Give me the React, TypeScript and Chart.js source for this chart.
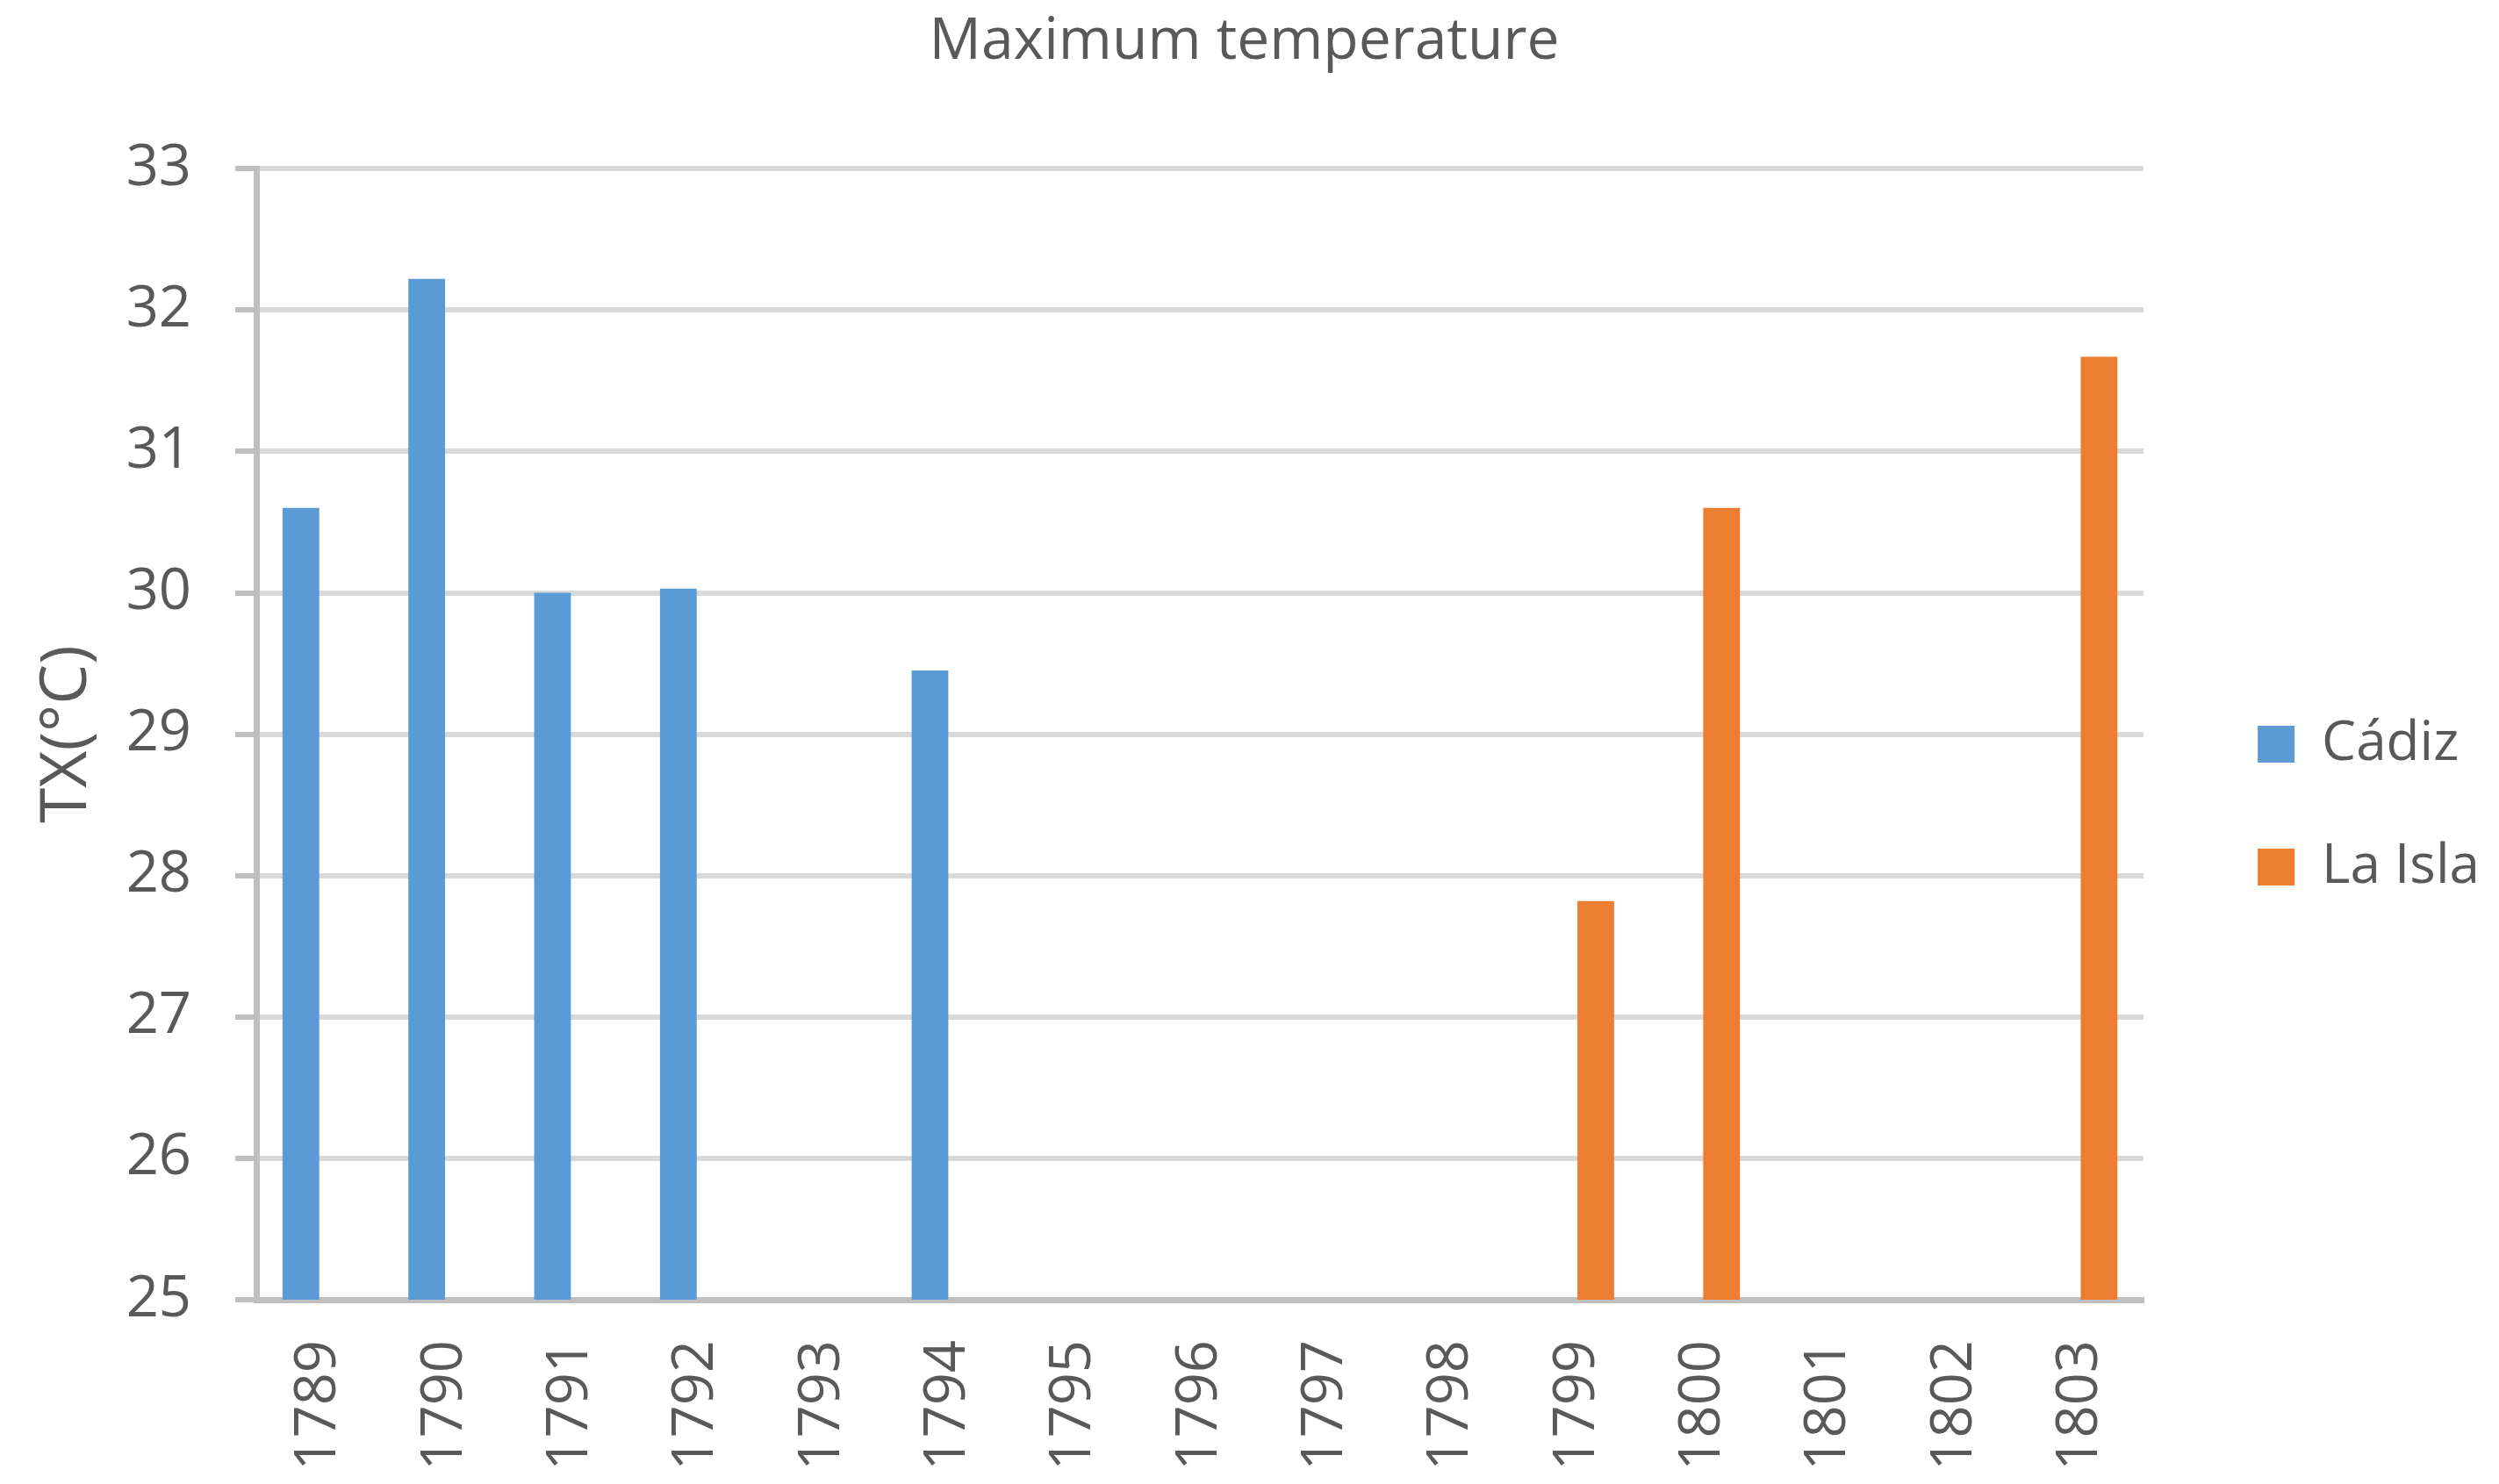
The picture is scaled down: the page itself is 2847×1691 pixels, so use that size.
import React, { useEffect, useRef } from "react";
import { Chart, registerables } from "chart.js";

Chart.register(...registerables);

const years = ["1789","1790","1791","1792","1793","1794","1795","1796","1797","1798","1799","1800","1801","1802","1803"];
const cadiz = [30.6, 32.22, 30.0, 30.03, null, 29.45, null, null, null, null, null, null, null, null, null];
const laIsla = [null, null, null, null, null, null, null, null, null, null, 27.82, 30.6, null, null, 31.67];
const yTicks = [25, 26, 27, 28, 29, 30, 31, 32, 33];

const FONT = "'Open Sans', sans-serif";
const TEXT = "#595959";

export default function App() {
  const ref = useRef<HTMLCanvasElement | null>(null);
  useEffect(() => {
    if (!ref.current) return;
    const chart = new Chart(ref.current, {
      type: "bar",
      data: {
        labels: years,
        datasets: [
          { label: "Cádiz", data: cadiz, backgroundColor: "#5B9BD5", borderWidth: 0 },
          { label: "La Isla", data: laIsla, backgroundColor: "#ED7D31", borderWidth: 0 },
        ],
      },
      options: {
        animation: false,
        responsive: false,
        devicePixelRatio: 1,
        layout: { padding: { left: 0, top: 0, bottom: 0, right: 12 } },
        datasets: { bar: { categoryPercentage: 0.583, barPercentage: 1, skipNull: false } },
        plugins: {
          title: {
            display: true,
            text: "Maximum temperature",
            color: TEXT,
            font: { family: FONT, size: 66, weight: "normal", lineHeight: 1.2 },
            padding: { top: 9, bottom: 104 },
          },
          legend: {
            position: "right",
            align: "center",
            title: {
              display: true,
              text: " ",
              font: { family: FONT, size: 10, lineHeight: 1 },
              padding: { top: 135, bottom: 0 },
            },
            labels: {
              color: TEXT,
              font: { family: FONT, size: 62 },
              boxWidth: 42,
              boxHeight: 42,
              padding: 78,
            },
          },
          tooltip: { enabled: false },
        },
        scales: {
          x: {
            grid: { display: false, drawTicks: false },
            border: { display: true, color: "#BFBFBF", width: 7 },
            ticks: {
              color: TEXT,
              font: { family: FONT, size: 65 },
              maxRotation: 90,
              minRotation: 90,
              padding: 46,
              autoSkip: false,
            },
            afterFit: (s: any) => { s.height = 210; },
          },
          y: {
            min: 25,
            max: 33,
            afterBuildTicks: (s: any) => { s.ticks = yTicks.map((v) => ({ value: v })); },
            grid: { color: "#D9D9D9", lineWidth: 6, tickColor: "#BFBFBF", tickLength: 24, drawTicks: true },
            border: { display: true, color: "#BFBFBF", width: 7 },
            ticks: { color: TEXT, font: { family: FONT, size: 65 }, padding: 50 },
            title: {
              display: true,
              text: "TX(°C)",
              color: TEXT,
              font: { family: FONT, size: 73, lineHeight: 1.2 },
              padding: { top: 33, bottom: 0 },
            },
            afterFit: (s: any) => { s.width = 292; },
          },
          pad: {
            type: "linear",
            position: "right",
            display: true,
            grid: { display: false, drawTicks: false },
            border: { display: false },
            ticks: { display: false },
            afterFit: (s: any) => { s.width = 52; },
          },
        },
      } as any,
    });
    return () => chart.destroy();
  }, []);
  return (
    <div style={{ position: "fixed", left: 0, top: 0, width: 2847, height: 1691, background: "#fff" }}>
      <canvas ref={ref} width={2847} height={1691} style={{ display: "block", width: 2847, height: 1691 }} />
    </div>
  );
}
